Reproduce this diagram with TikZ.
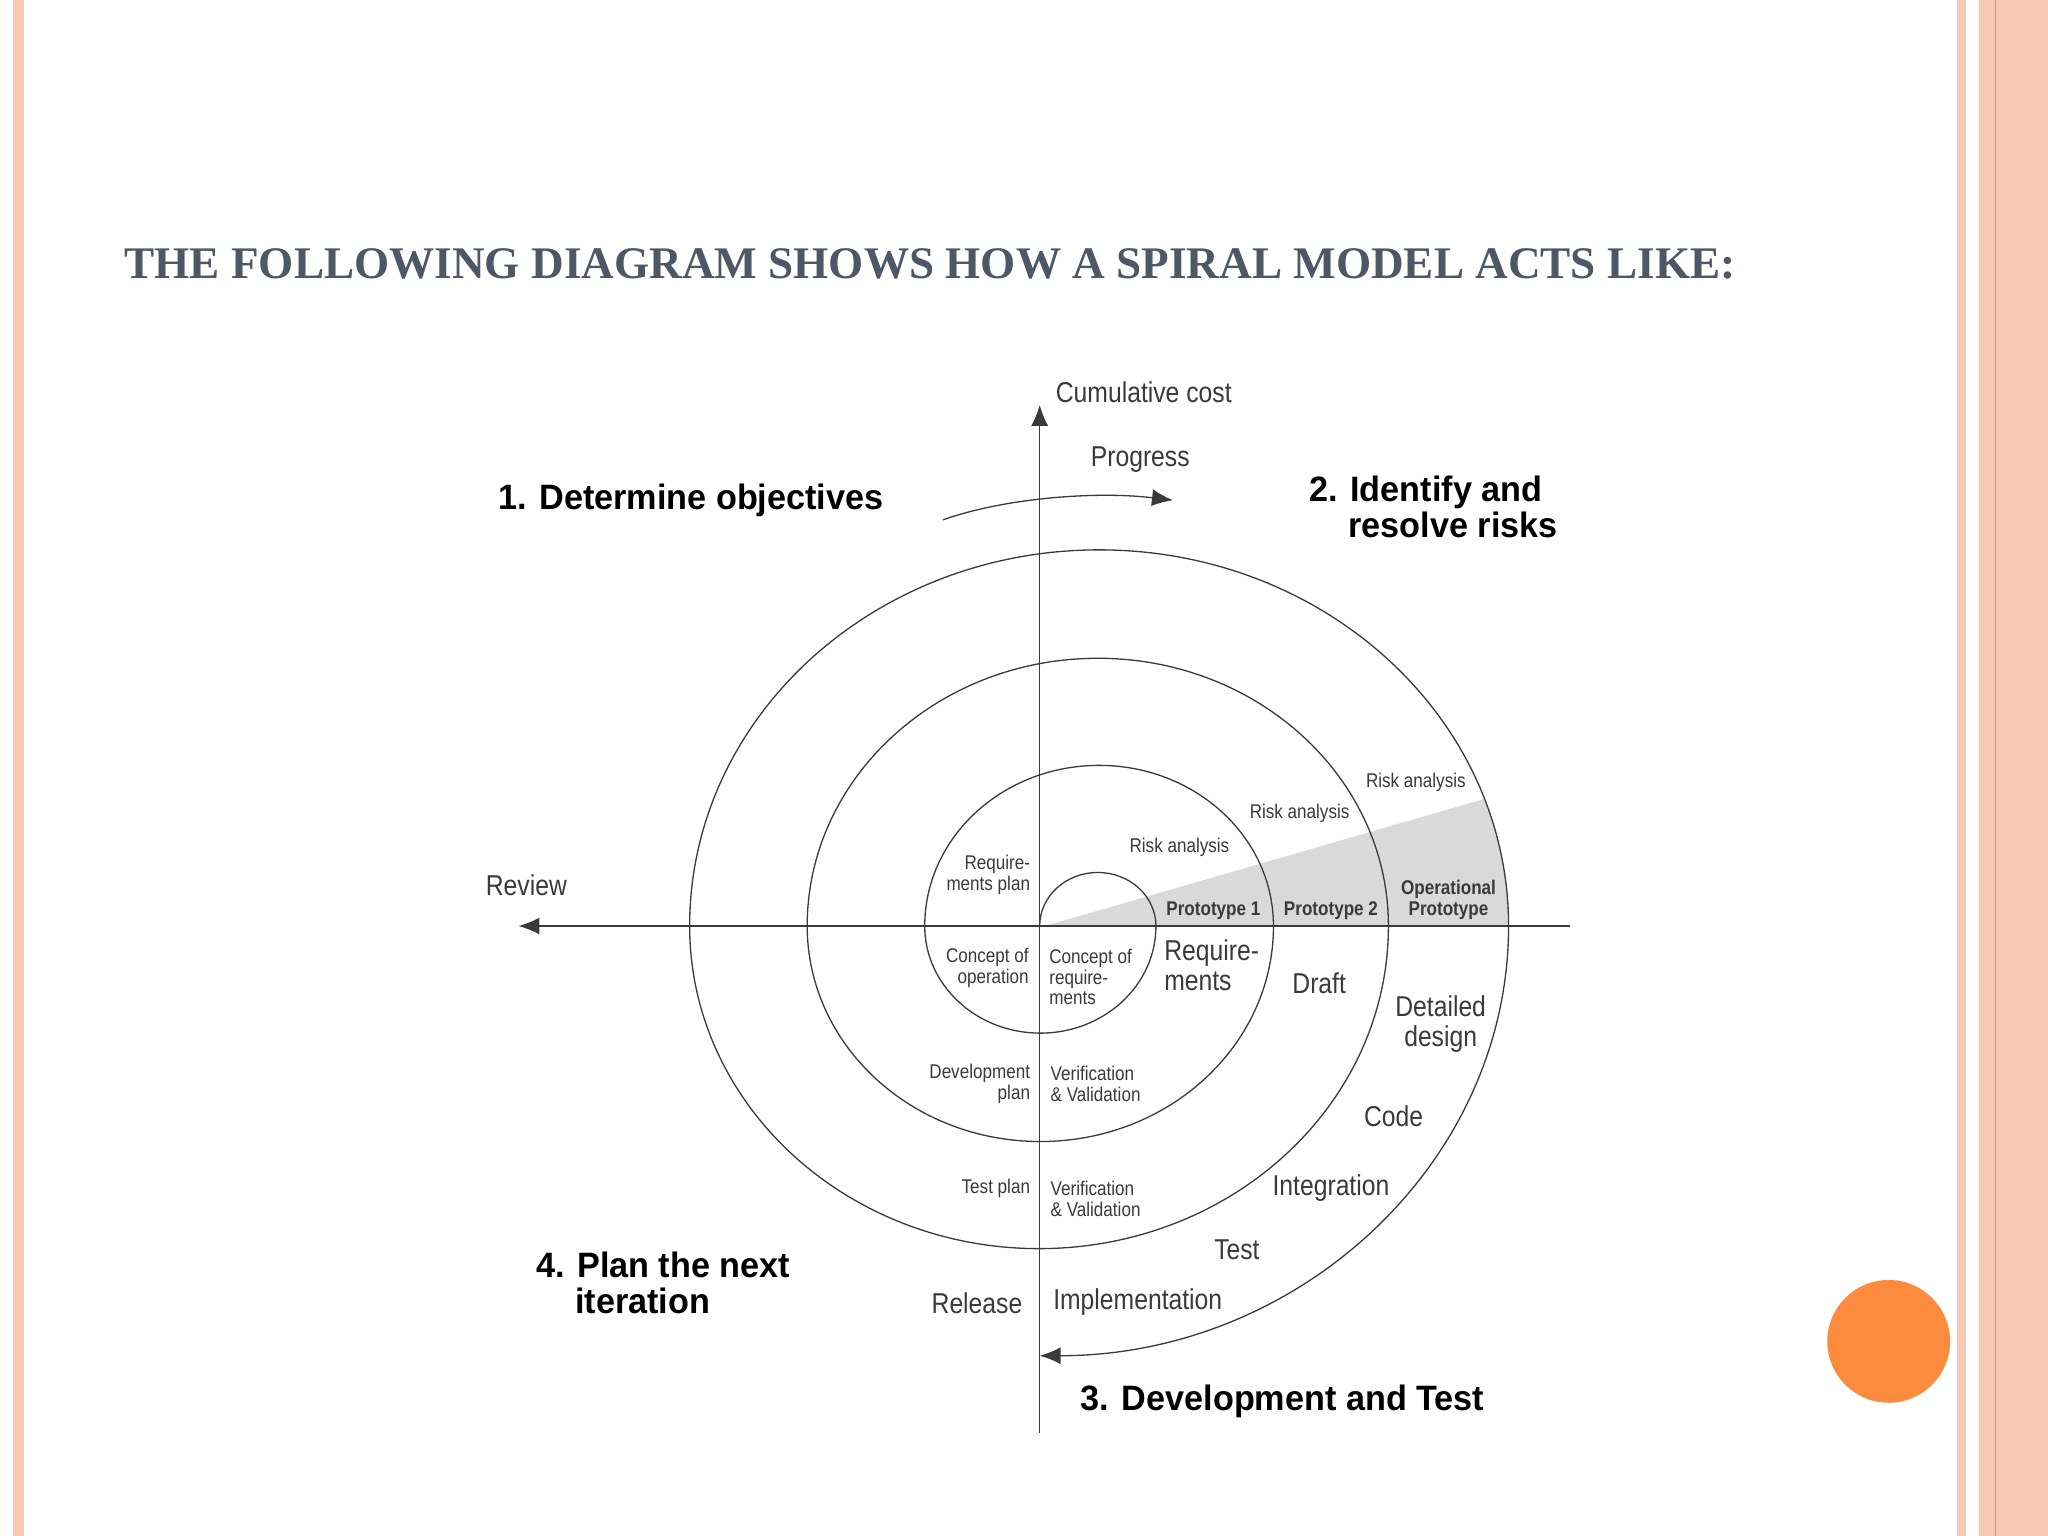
\documentclass[tikz,border=0pt]{standalone}
\usepackage{fontspec}
\setmainfont{Liberation Serif}
\newfontfamily\cond[FakeStretch=0.86]{Liberation Sans}
\newfontfamily\condb[FakeStretch=0.97]{Liberation Sans}
\usetikzlibrary{arrows.meta}
\definecolor{pinkb}{HTML}{F8C8B4}
\definecolor{orng}{HTML}{FD8B3E}
\definecolor{ttl}{HTML}{4D5766}
\definecolor{ink}{HTML}{3A3A3A}
\definecolor{lgray}{HTML}{D9D9D9}
\tikzset{
 lbl/.style={inner sep=0pt,text=ink,font=\cond\fontsize{11}{11.5}\selectfont},
 sm/.style={inner sep=0pt,text=ink,font=\cond\fontsize{7.6}{8}\selectfont},
 smb/.style={inner sep=0pt,text=ink,font=\cond\bfseries\fontsize{7.6}{8}\selectfont},
 hd/.style={inner sep=0pt,text=black,font=\condb\bfseries\fontsize{13.5}{13.8}\selectfont},
 ln/.style={draw=ink,line width=0.5pt},
 tip/.style={-{Latex[length=8pt,width=6.5pt]}}
}
\begin{document}
\begin{tikzpicture}[x=0.5pt,y=0.5pt]
\useasboundingbox (0,0) rectangle (1568,1176);
\fill[white] (0,0) rectangle (1568,1176);
% borders
\fill[pinkb] (10,0) rectangle (18,1176);
\fill[pinkb] (1498,0) rectangle (1505,1176);
\fill[pinkb] (1515,0) rectangle (1568,1176);
\draw[orng,line width=0.5pt] (1528,0) -- (1528,1176);
\fill[orng] (1446,149) circle (47);
% title
\node[anchor=base west,inner sep=0pt,text=ttl,font=\bfseries\fontsize{17.3}{17.3}\selectfont] (title) at (95,963) {THE FOLLOWING DIAGRAM SHOWS HOW A SPIRAL MODEL ACTS LIKE:};
% shaded wedge
\begin{scope}
\clip (841.5,467) ellipse [x radius=313.5,y radius=288];
\fill[lgray] (800,467) -- (1170,574) -- (1170,467) -- cycle;
\end{scope}
% axes
\coordinate (vb) at (796,79); \coordinate (vt) at (796,866);
\coordinate (hr) at (1202,467); \coordinate (hl) at (397,467);
\draw[ln,tip] (vb) -- (vt);
\draw[ln,tip] (hr) -- (hl);
% spiral
\coordinate (s0) at (796,467);
\draw[ln,tip] (s0)
 arc[start angle=180,end angle=0,x radius=44.5,y radius=41]
 arc[start angle=0,end angle=-180,x radius=88.5,y radius=82]
 arc[start angle=180,end angle=0,x radius=133.5,y radius=123]
 arc[start angle=0,end angle=-180,x radius=178.5,y radius=165]
 arc[start angle=180,end angle=0,x radius=222.5,y radius=205]
 arc[start angle=0,end angle=-180,x radius=267.5,y radius=247]
 arc[start angle=180,end angle=0,x radius=313.5,y radius=288]
 arc[start angle=0,end angle=-90,x radius=359,y radius=329];
% progress
\coordinate (p1) at (722,778); \coordinate (p2) at (898,793);
\draw[ln,tip] (p1) .. controls (770,795) and (840,800) .. (p2);
% labels
\node[lbl,anchor=west] (cc) at (808,876) {Cumulative cost};
\node[lbl] (prog) at (873,824) {Progress};
\node[hd,anchor=west] (h1) at (381,793) {1. Determine objectives};
\node[hd,anchor=north west,align=left] (h2) at (1002,812) {2. Identify and\\\hspace*{15pt}resolve risks};
\node[hd,anchor=north west,align=left] (h4) at (410,218) {4. Plan the next\\\hspace*{15pt}iteration};
\node[hd,anchor=west] (h3) at (827,103) {3. Development and Test};
\node[lbl] (rev) at (403,498) {Review};
\node[sm] (ra3) at (1084,577) {Risk analysis};
\node[sm] (ra2) at (995,553) {Risk analysis};
\node[sm] (ra1) at (903,527) {Risk analysis};
\node[sm,anchor=east,align=right] (rp) at (789,506) {Require-\\ments plan};
\node[smb] (pt1) at (929,479) {Prototype 1};
\node[smb] (pt2) at (1019,479) {Prototype 2};
\node[smb,align=center] (opt) at (1109,487) {Operational\\Prototype};
\node[sm,anchor=east,align=right] (co) at (788,435) {Concept of\\operation};
\node[sm,anchor=north west,align=left] (cr) at (803,450) {Concept of\\require-\\ments};
\node[lbl,anchor=north west,align=left] (rq) at (891,457) {Require-\\ments};
\node[lbl] (dr) at (1010,423) {Draft};
\node[lbl,align=center] (dd) at (1103,392) {Detailed\\design};
\node[lbl] (code) at (1067,321) {Code};
\node[lbl] (int) at (1019,266) {Integration};
\node[lbl] (tst) at (947,219) {Test};
\node[lbl,anchor=west] (imp) at (806,179) {Implementation};
\node[lbl] (rel) at (748,178) {Release};
\node[sm,anchor=east,align=right] (dp) at (789,346) {Development\\plan};
\node[sm,anchor=west,align=left] (vv1) at (804,346) {Verification\\\& Validation};
\node[sm,anchor=east] (tp) at (789,266) {Test plan};
\node[sm,anchor=west,align=left] (vv2) at (804,258) {Verification\\\& Validation};
\end{tikzpicture}
\end{document}
